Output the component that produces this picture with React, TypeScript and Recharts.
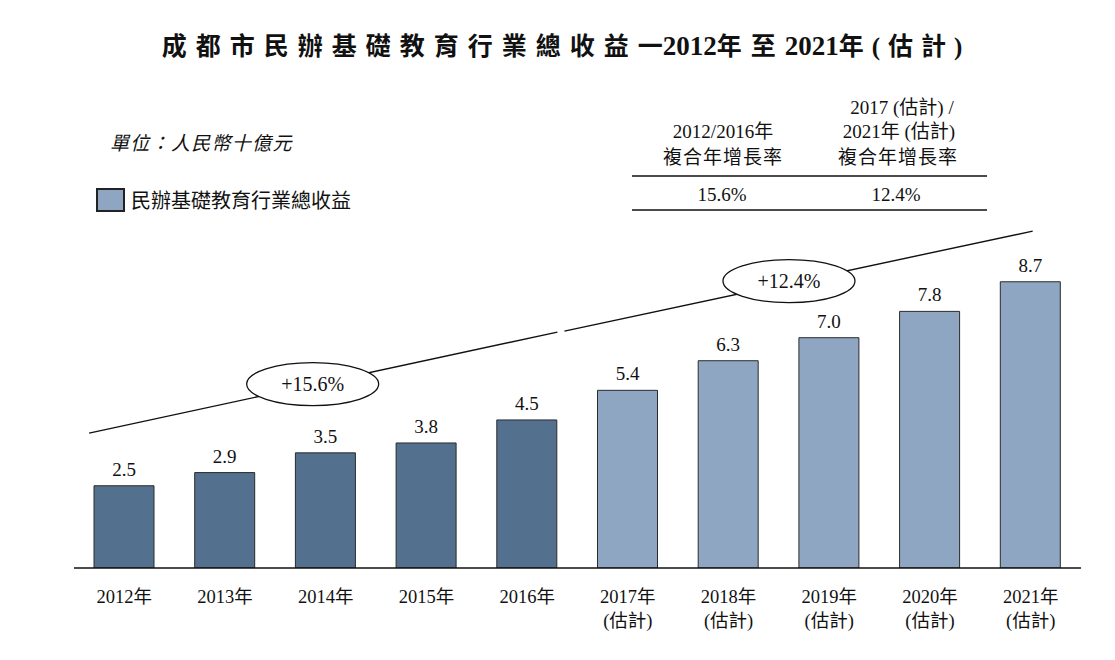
import React from 'react';
import { BarChart, Bar, XAxis, YAxis, Cell, LabelList, ReferenceLine, ReferenceDot } from 'recharts';

const years = ['2012年', '2013年', '2014年', '2015年', '2016年', '2017年', '2018年', '2019年', '2020年', '2021年'];
const revenue = [2.5, 2.9, 3.5, 3.8, 4.5, 5.4, 6.3, 7.0, 7.8, 8.7];
const estimated = [false, false, false, false, false, true, true, true, true, true];
const cagrLabels = ['+15.6%', '+12.4%'];
const tableValues = ['15.6%', '12.4%'];

// trend line segments in (category index, value) units
const trend1 = [{ x: -0.35, y: 4.1 }, { x: 4.3, y: 7.17 }];
const trend2 = [{ x: 4.37, y: 7.2 }, { x: 9.02, y: 10.24 }];
const bubbles = [{ x: 1.87, y: 5.59 }, { x: 6.6, y: 8.72 }];

const data = years.map((y, i) => ({ year: y, idx: i, value: revenue[i], est: estimated[i] }));

const DARK = '#54708F';
const LIGHT = '#8FA6C3';
const FONT = '"Liberation Serif", "Times New Roman", "Noto Sans CJK TC", serif';
const CJK = '"Liberation Serif", "Noto Sans CJK TC", serif';

const Tick = (props: any) => {
  const { x, y, payload } = props;
  const idx = years.indexOf(payload.value);
  return (
    <g>
      <text x={x} y={y + 35} textAnchor="middle" fontSize={18.5} fill="#111" fontFamily={CJK}>
        {payload.value}
      </text>
      {estimated[idx] && (
        <text x={x} y={y + 59} textAnchor="middle" fontSize={18.5} fill="#111" fontFamily={CJK}>
          (估計)
        </text>
      )}
    </g>
  );
};

const bubbleShape = (label: string) => (props: any) => {
  const { cx, cy } = props;
  return (
    <g>
      <ellipse cx={cx} cy={cy} rx={66} ry={21.5} fill="#fff" stroke="#111" strokeWidth={1.3} />
      <text x={cx} y={cy + 7} textAnchor="middle" fontSize={20} fill="#111" fontFamily={FONT}>
        {label}
      </text>
    </g>
  );
};

export default function App() {
  return (
    <div style={{ position: 'absolute', left: 0, top: 0, width: 1115, height: 660, background: '#fff' }}>
      <div style={{ position: 'absolute', left: 0, top: 0 }}>
        <BarChart
          width={1115}
          height={660}
          data={data}
          margin={{ top: 239, left: 74, right: 34, bottom: 32 }}
        >
          <XAxis
            dataKey="year"
            height={60}
            tickLine={false}
            tickSize={0}
            tickMargin={0}
            axisLine={{ stroke: '#111', strokeWidth: 1.5 }}
            tick={<Tick />}
            interval={0}
          />
          <XAxis xAxisId="n" dataKey="idx" type="number" domain={[-0.5, 9.5]} ticks={[-0.5, 9.5]} hide height={0} allowDataOverflow />
          <YAxis hide domain={[0, 10]} width={0} allowDataOverflow />
          <Bar dataKey="value" barSize={60} stroke="#2a2a2a" strokeWidth={1} isAnimationActive={false}>
            {data.map((d, i) => (
              <Cell key={i} fill={d.est ? LIGHT : DARK} />
            ))}
            <LabelList dataKey="value" position="top" offset={10} fontSize={19} fill="#111" fontFamily={FONT}
              formatter={(v: any) => Number(v).toFixed(1)} />
          </Bar>
          <ReferenceLine xAxisId="n" segment={trend1} stroke="#111" strokeWidth={1.4} ifOverflow="visible" />
          <ReferenceLine xAxisId="n" segment={trend2} stroke="#111" strokeWidth={1.4} ifOverflow="visible" />
          {bubbles.map((b, i) => (
            <ReferenceDot key={i} xAxisId="n" x={b.x} y={b.y} r={1} ifOverflow="visible" shape={bubbleShape(cagrLabels[i])} />
          ))}
        </BarChart>
      </div>
      <svg width={1115} height={230} style={{ position: 'absolute', left: 0, top: 0 }}>
        <text x={566} y={55} textAnchor="middle" fontSize={25} fontWeight="bold" fill="#111" fontFamily={CJK}>
          <tspan letterSpacing={9}>成都市民辦基礎教育行業總收益</tspan>
          <tspan letterSpacing={0}>一</tspan>
          <tspan letterSpacing={0} fontSize={27}>2012</tspan>
          <tspan letterSpacing={9}>年至</tspan>
          <tspan letterSpacing={0} fontSize={27}>2021</tspan>
          <tspan letterSpacing={8}>年(估計)</tspan>
        </text>
        <text x={110} y={150} fontSize={19} fontStyle="italic" fill="#111" fontFamily={CJK} letterSpacing={1.3}>
          單位：人民幣十億元
        </text>
        <rect x={97} y={189} width={27} height={22} fill={LIGHT} stroke="#222" strokeWidth={2} />
        <text x={131} y={208} fontSize={20} fill="#111" fontFamily={CJK}>
          民辦基礎教育行業總收益
        </text>
        <text x={723} y={138} textAnchor="middle" fontSize={19} fill="#111" fontFamily={CJK}>2012/2016年</text>
        <text x={723} y={164} textAnchor="middle" fontSize={19} fill="#111" fontFamily={CJK} letterSpacing={1}>複合年增長率</text>
        <text x={902} y={114} textAnchor="middle" fontSize={19} fill="#111" fontFamily={CJK}>2017 (估計) /</text>
        <text x={899} y={138} textAnchor="middle" fontSize={19} fill="#111" fontFamily={CJK}>2021年 (估計)</text>
        <text x={898} y={164} textAnchor="middle" fontSize={19} fill="#111" fontFamily={CJK} letterSpacing={1}>複合年增長率</text>
        <line x1={632} x2={987} y1={176} y2={176} stroke="#111" strokeWidth={1.4} />
        <text x={722} y={201} textAnchor="middle" fontSize={19} fill="#111" fontFamily={FONT}>{tableValues[0]}</text>
        <text x={896} y={201} textAnchor="middle" fontSize={19} fill="#111" fontFamily={FONT}>{tableValues[1]}</text>
        <line x1={632} x2={987} y1={210} y2={210} stroke="#111" strokeWidth={1.4} />
      </svg>
    </div>
  );
}
